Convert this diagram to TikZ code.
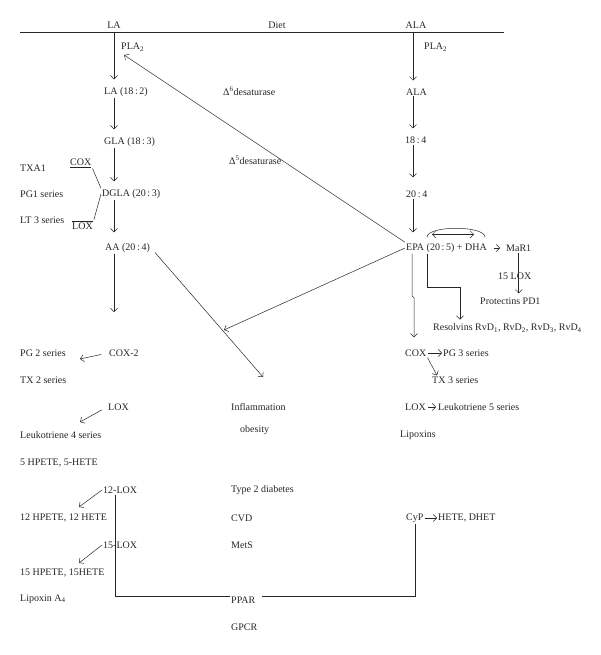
\documentclass[tikz,border=0pt]{standalone}
\usepackage{fontspec}
\setmainfont{Liberation Serif}
\usetikzlibrary{arrows.meta}

\begin{document}
\begin{tikzpicture}[x=1pt,y=-1pt,>={Straight Barb[length=3.5pt,width=7pt]}]
    \useasboundingbox (0,0) rectangle (600,655);

        \coordinate (hl) at (20,32);
        \coordinate (hr) at (504,32);
        \coordinate (lx) at (114,0);
        \coordinate (rx) at (413,0);

        \begin{scope}[every node/.style={anchor=west,inner sep=1pt,text=black!85}]
            \node[anchor=center] (hla) at (114,25) {LA};
            \node[anchor=center] (diet) at (277,25) {Diet};
            \node[anchor=center] (hala) at (416,25) {ALA};
            % n-6 side
            \node (pla1) at (120,47) {PLA\textsubscript{2}};
            \node (la182) at (103,92) {LA (18\,:\,2)};
            \node (gla) at (103,142) {GLA (18\,:\,3)};
            \node (dgla) at (101,194) {DGLA (20\,:\,3)};
            \node (txa) at (19,168) {TXA1};
            \node (cox1) at (69,163) {\underline{COX}};
            \node (pg1) at (19,194) {PG1 series};
            \node (lt3) at (19,220) {LT 3 series};
            \node (lox1) at (71,225) {$\overline{\hbox{LOX}}$};
            \node (aa) at (104,248) {AA (20\,:\,4)};
            \node (pg2) at (19,353) {PG 2 series};
            \node (cox2) at (108,353) {COX-2};
            \node (tx2) at (19,380) {TX 2 series};
            \node (lox2) at (107,407) {LOX};
            \node (lt4) at (19,435) {Leukotriene 4 series};
            \node (hpete5) at (19,463) {5 HPETE, 5-HETE};
            \node (lox12) at (102,490) {12-LOX};
            \node (hpete12) at (19,518) {12 HPETE, 12 HETE};
            \node (lox15) at (102,545) {15-LOX};
            \node (hpete15) at (19,573) {15 HPETE, 15HETE};
            \node (lxa) at (19,599) {Lipoxin A\textsubscript{4}};
            % middle
            \node (d6) at (222,91) {Δ\textsuperscript{6}desaturase};
            \node (d5) at (228,160) {Δ\textsuperscript{5}desaturase};
            \node (infl) at (230,407) {Inflammation};
            \node (obes) at (239,430) {obesity};
            \node (t2d) at (230,490) {Type 2 diabetes};
            \node (cvd) at (230,518) {CVD};
            \node (mets) at (230,545) {MetS};
            \node (ppar) at (230,600) {PPAR};
            \node (gpcr) at (230,627) {GPCR};
            % n-3 side
            \node (pla2) at (423,47) {PLA\textsubscript{2}};
            \node (ala) at (405,92) {ALA};
            \node (s184) at (404,140) {18\,:\,4};
            \node (s204) at (405,194) {20\,:\,4};
            \node (epa) at (405,248) {EPA (20\,:\,5) + DHA};
            \node (mar) at (505,248) {MaR1};
            \node (lox15b) at (497,276) {15 LOX};
            \node (pd1) at (479,301) {Protectins PD1};
            \node (rsv) at (432,328) {Resolvins RvD\textsubscript{1}, RvD\textsubscript{2}, RvD\textsubscript{3}, RvD\textsubscript{4}};
            \node (cox3) at (404,353) {COX};
            \node (pg3) at (442,353) {PG 3 series};
            \node (tx3) at (431,380) {TX 3 series};
            \node (lox5) at (404,407) {LOX};
            \node (lt5) at (437,407) {Leukotriene 5 series};
            \node (lpx) at (399,435) {Lipoxins};
            \node (cyp) at (405,518) {CyP};
            \node (hete) at (437,518) {HETE, DHET};
        \end{scope}

        \coordinate (aaend) at (114,312);
        \coordinate (m1) at (224,330);
        \coordinate (m2) at (263,377);
        \coordinate (c1) at (80,359);
        \coordinate (c2) at (80,422);
        \coordinate (c3) at (79,507);
        \coordinate (c4) at (79,563);

        \begin{scope}[black!85, line width=0.5pt, every edge/.style={draw,shorten >=7pt}]
            \draw (hl) -- (hr);
            \path [->] (lx |- hl) edge (la182.north -| lx);
            \path [->] (la182.south -| lx) edge (gla.north -| lx);
            \path [->] (gla.south -| lx) edge (dgla.north -| lx);
            \path [->] (dgla.south -| lx) edge [shorten >=10pt] (aa.north -| lx);
            \path [->] (aa.south -| lx) edge [shorten >=0pt] (aaend);
            \path [->] (rx |- hl) edge (ala.north -| rx);
            \path [->] (ala.south -| rx) edge (s184.north -| rx);
            \path [->] (s184.south -| rx) edge [shorten >=12pt] (s204.north -| rx);
            \path [->] (s204.south -| rx) edge [shorten >=10pt] (epa.north -| rx);

            \draw (cox1.south east) -- (dgla.north west);
            \draw (dgla.west) -- (lox1.north east);

            \path [->] (epa.north west) edge [shorten >=5pt] (pla1.south west);
            \path [->] (epa.west) edge [shorten >=0pt] (m1);
            \path [->] (aa.east) edge [shorten <=6pt, shorten >=0pt] (m2);

            \path [->] (cox2.west) edge [shorten <=7pt, shorten >=0pt] (c1);
            \path [->] (lox2.west) edge [shorten <=6pt, shorten >=0pt] (c2);
            \path [->] (lox12.west) edge [shorten >=0pt] (c3);
            \path [->] (lox15.west) edge [shorten >=0pt] (c4);

            \draw ([xshift=13pt]lox12.south west) |- ([yshift=4pt]ppar.west);
            \draw [shorten <=5pt] ([yshift=4pt]ppar.east) -| ([xshift=10pt]cyp.south west);

            % EPA + DHA
            \draw ([xshift=22pt,yshift=5pt]epa.north west) .. controls +(0,-12) and +(0,-12) .. ++(58,0);
            \draw [<->] ([xshift=27pt,yshift=8pt]epa.north west) -- ++(42,0);
            \path [->] (epa.east) edge [shorten <=6pt, shorten >=5pt] (mar.west);
            \path [->] (mar.south) edge [shorten >=3pt] (mar.south |- pd1.north);
            \draw [->, shorten >=3pt] ([xshift=22pt]epa.south west) -- ++(0,34) -| ([xshift=28pt]rsv.north west);
            \draw [->] ([xshift=7pt]epa.south west) -- ++(0,42) -- ++(2,2) -- ([xshift=10pt,yshift=11pt]cox3.north west);

            \path [->] (cox3.east) edge [shorten >=0pt] (pg3.west);
            \path [->] (cox3.south east) edge [shorten >=0pt] ([xshift=6pt]tx3.north west);
            \path [->] (lox5.east) edge [shorten <=1pt, shorten >=1pt] (lt5.west);
            \path [->] (cyp.east) edge [shorten >=0pt] (hete.west);
        \end{scope}

    \end{tikzpicture}
\end{document}
